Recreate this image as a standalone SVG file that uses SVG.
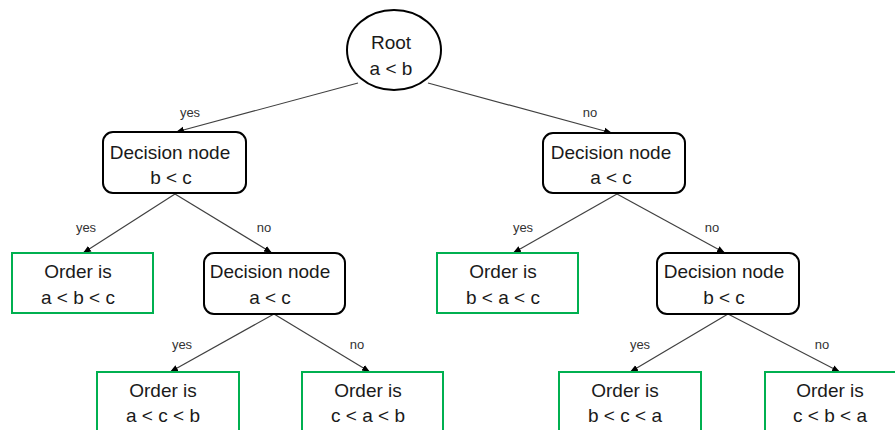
<svg xmlns="http://www.w3.org/2000/svg" width="895" height="430" viewBox="0 0 895 430">
  <style>
    .bg { fill: #ffffff; }
    .decision { fill: #ffffff; stroke: #000000; stroke-width: 2; }
    .leaf { fill: #ffffff; stroke: #00b050; stroke-width: 2; }
    .root { fill: #ffffff; stroke: #000000; stroke-width: 2; }
    .txt { font-family: "Liberation Sans", Arial, sans-serif; font-size: 19px; fill: #1a1a1a; text-anchor: middle; }
    .edge { stroke: #404040; stroke-width: 1.2; fill: none; marker-end: url(#arrow); }
    .lbl { font-family: "Liberation Sans", Arial, sans-serif; font-size: 13px; fill: #333333; text-anchor: middle; }
  </style>
  <defs>
    <marker id="arrow" markerUnits="userSpaceOnUse" markerWidth="8" markerHeight="8" viewBox="0 0 8 8" refX="8" refY="4" orient="auto">
      <path d="M0,0.8 L8,4 L0,7.2 Z" fill="#000000"/>
    </marker>
  </defs>
  <rect class="bg" x="0" y="0" width="895" height="430"/>

  <g id="connectors">
    <line class="edge" x1="358" y1="83" x2="176" y2="132"/>
    <text class="lbl" x="190" y="117">yes</text>
    <line class="edge" x1="428" y1="83" x2="612" y2="133"/>
    <text class="lbl" x="590" y="117">no</text>

    <line class="edge" x1="175" y1="194" x2="83" y2="253"/>
    <text class="lbl" x="86" y="232">yes</text>
    <line class="edge" x1="175" y1="194" x2="272" y2="253"/>
    <text class="lbl" x="264" y="232">no</text>

    <line class="edge" x1="617" y1="194" x2="513" y2="253"/>
    <text class="lbl" x="523" y="232">yes</text>
    <line class="edge" x1="617" y1="194" x2="725" y2="253"/>
    <text class="lbl" x="712" y="232">no</text>

    <line class="edge" x1="274" y1="314" x2="170" y2="372"/>
    <text class="lbl" x="182" y="349">yes</text>
    <line class="edge" x1="274" y1="314" x2="370" y2="372"/>
    <text class="lbl" x="357" y="349">no</text>

    <line class="edge" x1="728" y1="314" x2="630" y2="372"/>
    <text class="lbl" x="640" y="349">yes</text>
    <line class="edge" x1="728" y1="314" x2="840" y2="372"/>
    <text class="lbl" x="822" y="349">no</text>
  </g>

  <g id="root">
    <ellipse class="root" cx="394" cy="50" rx="47" ry="40"/>
    <text class="txt" x="391" y="49">Root</text>
    <text class="txt" x="391" y="75">a &lt; b</text>
  </g>

  <g id="decision-b-c">
    <rect class="decision" x="103" y="132" width="143" height="61" rx="10"/>
    <text class="txt" x="170" y="159">Decision node</text>
    <text class="txt" x="171" y="184">b &lt; c</text>
  </g>

  <g id="decision-a-c-right">
    <rect class="decision" x="543" y="133" width="142" height="60" rx="10"/>
    <text class="txt" x="611" y="159">Decision node</text>
    <text class="txt" x="611" y="184">a &lt; c</text>
  </g>

  <g id="order-abc">
    <rect class="leaf" x="12" y="253" width="141" height="60"/>
    <text class="txt" x="78" y="278">Order is</text>
    <text class="txt" x="78" y="304">a &lt; b &lt; c</text>
  </g>

  <g id="decision-a-c-left">
    <rect class="decision" x="204" y="253" width="141" height="61" rx="10"/>
    <text class="txt" x="270" y="278">Decision node</text>
    <text class="txt" x="270" y="304">a &lt; c</text>
  </g>

  <g id="order-bac">
    <rect class="leaf" x="437" y="253" width="141" height="60"/>
    <text class="txt" x="503" y="278">Order is</text>
    <text class="txt" x="503" y="304">b &lt; a &lt; c</text>
  </g>

  <g id="decision-b-c-right">
    <rect class="decision" x="657" y="253" width="142" height="61" rx="10"/>
    <text class="txt" x="724" y="278">Decision node</text>
    <text class="txt" x="724" y="304">b &lt; c</text>
  </g>

  <g id="order-acb">
    <rect class="leaf" x="97" y="372" width="142" height="62"/>
    <text class="txt" x="163" y="397">Order is</text>
    <text class="txt" x="163" y="422">a &lt; c &lt; b</text>
  </g>

  <g id="order-cab">
    <rect class="leaf" x="302" y="372" width="141" height="62"/>
    <text class="txt" x="368" y="397">Order is</text>
    <text class="txt" x="368" y="422">c &lt; a &lt; b</text>
  </g>

  <g id="order-bca">
    <rect class="leaf" x="559" y="372" width="142" height="62"/>
    <text class="txt" x="625" y="397">Order is</text>
    <text class="txt" x="625" y="422">b &lt; c &lt; a</text>
  </g>

  <g id="order-cba">
    <rect class="leaf" x="765" y="372" width="142" height="62"/>
    <text class="txt" x="830" y="397">Order is</text>
    <text class="txt" x="830" y="422">c &lt; b &lt; a</text>
  </g>
</svg>
